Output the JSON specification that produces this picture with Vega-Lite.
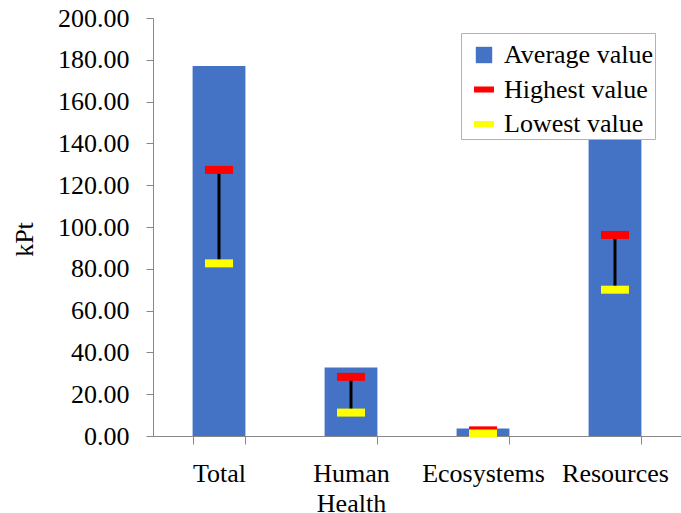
{
  "$schema": "https://vega.github.io/schema/vega-lite/v6.json",
  "width": 528,
  "height": 418,
  "autosize": {"type": "none"},
  "padding": {"left": 153, "top": 18, "right": 0, "bottom": 77},
  "background": "white",
  "data": {
    "values": [
      {"category": "Total", "average": 177.0, "highest": 127.3, "lowest": 82.6},
      {"category": "Human Health", "average": 32.8, "highest": 28.3, "lowest": 11.2},
      {"category": "Ecosystems", "average": 3.6, "highest": 2.7, "lowest": 1.2},
      {"category": "Resources", "average": 141.6, "highest": 96.2, "lowest": 70.0}
    ]
  },
  "encoding": {
    "x": {
      "field": "category",
      "type": "nominal",
      "sort": null,
      "scale": {"paddingInner": 0.6, "paddingOuter": 0.3},
      "axis": {
        "title": null,
        "labelAngle": 0,
        "tickBand": "extent",
        "tickSize": 8,
        "labelPadding": 16,
        "labelLineHeight": 30,
        "labelExpr": "datum.value == 'Human Health' ? ['Human', 'Health'] : datum.value"
      }
    }
  },
  "layer": [
    {
      "mark": {"type": "bar"},
      "encoding": {
        "y": {
          "field": "average",
          "type": "quantitative",
          "scale": {"domain": [0, 200], "nice": false},
          "axis": {
            "title": "kPt",
            "values": [0, 20, 40, 60, 80, 100, 120, 140, 160, 180, 200],
            "format": ".2f",
            "tickSize": 7,
            "labelPadding": 17,
            "titlePadding": 20,
            "titleY": 221
          }
        },
        "color": {
          "datum": "Average value",
          "scale": {
            "domain": ["Average value", "Highest value", "Lowest value"],
            "range": ["#4472C4", "#FF0000", "#FFFF00"]
          },
          "legend": {
            "title": " ",
            "titleFontSize": 4,
            "titlePadding": 3,
            "orient": "none",
            "legendX": 308,
            "legendY": 15,
            "padding": 2,
            "symbolOffset": 8,
            "encode": {
              "symbols": {
                "update": {
                  "shape": {"signal": "datum.value === 'Average value' ? 'M-0.82,-0.82H0.82V0.82H-0.82Z' : 'M-1,-0.3H1V0.3H-1Z'"},
                  "fill": {"signal": "datum.value === 'Average value' ? '#4472C4' : datum.value === 'Highest value' ? '#FF0000' : '#FFFF00'"},
                  "opacity": {"value": 1},
                  "fillOpacity": {"value": 1},
                  "strokeWidth": {"value": 0}
                }
              }
            }
          }
        }
      }
    },
    {
      "mark": {"type": "rule", "color": "black", "strokeWidth": 3},
      "encoding": {
        "y": {"field": "lowest", "type": "quantitative"},
        "y2": {"field": "highest"}
      }
    },
    {
      "mark": {"type": "tick", "thickness": 8, "size": 28, "opacity": 1},
      "encoding": {
        "y": {"field": "highest", "type": "quantitative"},
        "color": {"datum": "Highest value"}
      }
    },
    {
      "mark": {"type": "tick", "thickness": 8, "size": 28, "opacity": 1},
      "encoding": {
        "y": {"field": "lowest", "type": "quantitative"},
        "color": {"datum": "Lowest value"}
      }
    }
  ],
  "config": {
    "view": {"stroke": null},
    "font": "Liberation Serif, Times New Roman, serif",
    "axis": {
      "grid": false,
      "domainColor": "#888888",
      "tickColor": "#888888",
      "labelFont": "Liberation Serif, Times New Roman, serif",
      "labelFontSize": 26,
      "labelColor": "black",
      "titleFont": "Liberation Serif, Times New Roman, serif",
      "titleFontSize": 26,
      "titleFontWeight": "normal",
      "titleColor": "black"
    },
    "legend": {
      "rowPadding": 8.5,
      "strokeColor": "#9DB5E0",
      "fillColor": "white",
      "labelFont": "Liberation Serif, Times New Roman, serif",
      "labelFontSize": 26,
      "labelColor": "black",
      "labelOffset": 7,
      "symbolSize": 400,
      "symbolStrokeWidth": 0,
      "symbolOpacity": 1
    }
  }
}
